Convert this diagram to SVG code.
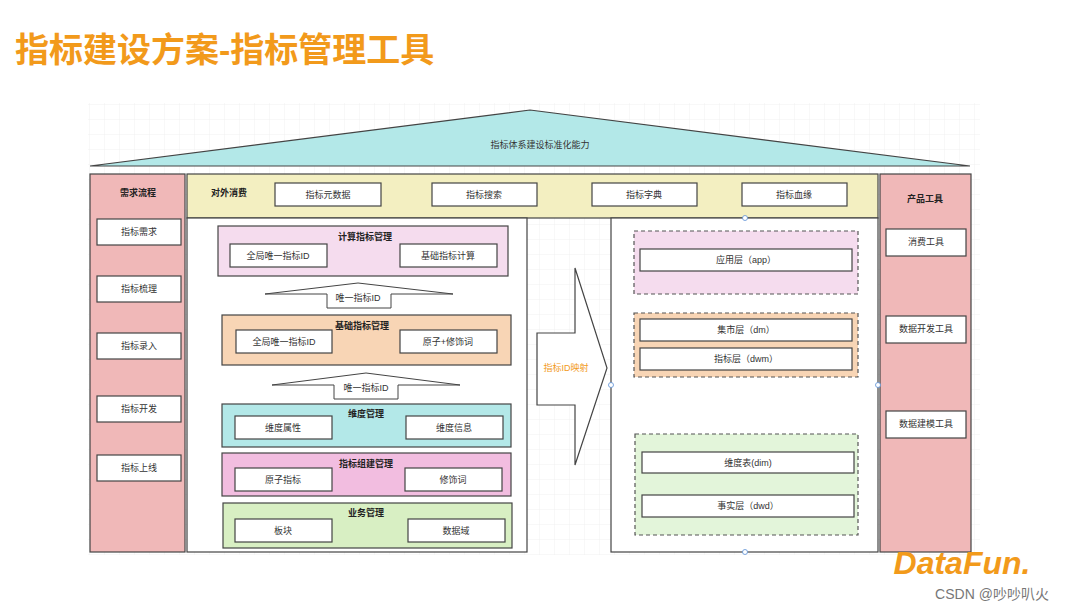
<svg xmlns="http://www.w3.org/2000/svg" width="1080" height="608" viewBox="0 0 1080 608">
<defs>
<pattern id="grid" width="15" height="15" patternUnits="userSpaceOnUse"><path d="M15 0V15H0" fill="none" stroke="#ececec" stroke-width="0.8"/></pattern>
</defs>
<style>
text{font-family:"Liberation Sans","Noto Sans CJK SC",sans-serif;font-size:9px;fill:#333;text-anchor:middle;dominant-baseline:central}
.b{font-weight:bold;fill:#222}
.box{fill:#fff;stroke:#444;stroke-width:1.2}
.panel{stroke:#444;stroke-width:1.2}
.dash{stroke:#555;stroke-width:1.2;stroke-dasharray:4 3}
.pt{fill:#fff;stroke:#5b8fd6;stroke-width:0.8}
</style>
<rect width="1080" height="608" fill="#fff"/>
<rect x="88" y="103" width="892" height="452" fill="url(#grid)"/>
<text x="15" y="50" style="font-size:34px;font-weight:bold;fill:#F29A1B;text-anchor:start">指标建设方案-指标管理工具</text>

<g id="roof"><polygon points="90,166 530,110 970,166" fill="#b3e8e8" stroke="#444" stroke-width="1.2"/><text x="540" y="145">指标体系建设标准化能力</text></g>

<g id="demand">
<rect class="panel" x="90" y="174" width="95" height="378" fill="#f0b8b8"/>
<text class="b" x="138" y="193">需求流程</text>
<rect class="box" x="97" y="219" width="84" height="26"/><text x="139" y="232">指标需求</text>
<rect class="box" x="97" y="276" width="84" height="26"/><text x="139" y="289">指标梳理</text>
<rect class="box" x="97" y="333" width="84" height="26"/><text x="139" y="346">指标录入</text>
<rect class="box" x="97" y="396" width="84" height="26"/><text x="139" y="409">指标开发</text>
<rect class="box" x="97" y="455" width="84" height="26"/><text x="139" y="468">指标上线</text>
</g>

<g id="consume">
<rect class="panel" x="187" y="174" width="691" height="44" fill="#f3efc1"/>
<text class="b" x="229" y="193">对外消费</text>
<rect class="box" x="275" y="183" width="106" height="23"/><text x="328" y="195">指标元数据</text>
<rect class="box" x="432" y="183" width="105" height="23"/><text x="484" y="195">指标搜索</text>
<rect class="box" x="592" y="183" width="105" height="23"/><text x="644" y="195">指标字典</text>
<rect class="box" x="742" y="183" width="105" height="23"/><text x="794" y="195">指标血缘</text>
</g>

<g id="tools">
<rect class="panel" x="880" y="174" width="91" height="378" fill="#f0b8b8"/>
<text class="b" x="925" y="199">产品工具</text>
<rect class="box" x="886" y="229" width="80" height="27"/><text x="926" y="242">消费工具</text>
<rect class="box" x="886" y="316" width="80" height="27"/><text x="926" y="329">数据开发工具</text>
<rect class="box" x="886" y="411" width="80" height="27"/><text x="926" y="424">数据建模工具</text>
</g>

<g id="left">
<rect class="panel" x="187" y="218" width="340" height="334" fill="#fff"/>
<g id="calc"><rect class="panel" x="218" y="226" width="290" height="50" fill="#f5dcee"/><text class="b" x="365" y="237">计算指标管理</text>
<rect class="box" x="230" y="244" width="97" height="23"/><text x="278" y="256">全局唯一指标ID</text>
<rect class="box" x="400" y="244" width="97" height="23"/><text x="448" y="256">基础指标计算</text></g>
<g id="arrow1"><polygon points="265,294 358,283 453,294 391,294 391,308 327,308 327,294" fill="#fff" stroke="#444" stroke-width="1"/><text x="358" y="298">唯一指标ID</text></g>
<g id="basic"><rect class="panel" x="222" y="315" width="289" height="50" fill="#f8d5b5"/><text class="b" x="362" y="326">基础指标管理</text>
<rect class="box" x="236" y="330" width="96" height="23"/><text x="284" y="342">全局唯一指标ID</text>
<rect class="box" x="400" y="330" width="97" height="23"/><text x="448" y="342">原子+修饰词</text></g>
<g id="arrow2"><polygon points="272,385 366,373 460,385 398,385 398,399 334,399 334,385" fill="#fff" stroke="#444" stroke-width="1"/><text x="366" y="388">唯一指标ID</text></g>
<g id="dim"><rect class="panel" x="222" y="404" width="289" height="43" fill="#b3e8e8"/><text class="b" x="366" y="414">维度管理</text>
<rect class="box" x="235" y="416" width="97" height="23"/><text x="283" y="428">维度属性</text>
<rect class="box" x="406" y="416" width="97" height="23"/><text x="454" y="428">维度信息</text></g>
<g id="build"><rect class="panel" x="222" y="453" width="289" height="43" fill="#f2bde0"/><text class="b" x="366" y="464">指标组建管理</text>
<rect class="box" x="235" y="468" width="97" height="23"/><text x="283" y="480">原子指标</text>
<rect class="box" x="405" y="468" width="97" height="23"/><text x="453" y="480">修饰词</text></g>
<g id="biz"><rect class="panel" x="223" y="503" width="289" height="45" fill="#d8efc3"/><text class="b" x="366" y="513">业务管理</text>
<rect class="box" x="235" y="519" width="97" height="23"/><text x="283" y="531">板块</text>
<rect class="box" x="408" y="519" width="97" height="23"/><text x="456" y="531">数据域</text></g>
</g>

<g id="mapping"><polygon points="537,333 575,333 575,268 607,368 575,465 575,405 537,405" fill="#fff" stroke="#444" stroke-width="1.2"/><text x="566" y="368" style="fill:#F29A1B">指标ID映射</text></g>

<g id="right">
<rect class="panel" x="611" y="218" width="267" height="334" fill="#fff"/>
<rect class="dash" x="634" y="231" width="224" height="63" fill="#f5dcee"/>
<rect class="box" x="640" y="249" width="212" height="22"/><text x="746" y="260">应用层（app）</text>
<rect class="dash" x="634" y="313" width="224" height="64" fill="#f8d5b5"/>
<rect class="box" x="640" y="319" width="212" height="22"/><text x="746" y="330">集市层（dm）</text>
<rect class="box" x="640" y="348" width="212" height="22"/><text x="746" y="359">指标层（dwm）</text>
<rect class="dash" x="635" y="434" width="223" height="101" fill="#e3f5da"/>
<rect class="box" x="642" y="452" width="212" height="21"/><text x="748" y="463">维度表(dim)</text>
<rect class="box" x="642" y="495" width="212" height="22"/><text x="748" y="506">事实层（dwd）</text>
</g>

<g id="connectors">
<circle class="pt" cx="745" cy="218" r="2.5"/><circle class="pt" cx="611" cy="385" r="2.5"/><circle class="pt" cx="878" cy="385" r="2.5"/><circle class="pt" cx="745" cy="552" r="2.5"/>
</g>

<text x="962" y="563" style="font-size:32px;font-weight:bold;font-style:italic;fill:#F29A1B">DataFun.</text>
<text x="992" y="594" style="font-size:14px;fill:#777">CSDN @吵吵叭火</text>
</svg>
